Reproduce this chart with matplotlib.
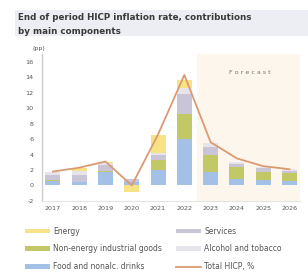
import numpy as np
import matplotlib
matplotlib.use('Agg')
import matplotlib.pyplot as plt
from matplotlib.patches import Rectangle

years = ['2017', '2018', '2019', '2020', '2021', '2022', '2023', '2024', '2025', '2026']
food = [0.6, 0.5, 1.8, 0.4, 2.0, 6.0, 1.8, 0.9, 0.7, 0.6]
neig = [0.1, 0.0, 0.1, 0.1, 1.3, 3.3, 2.2, 1.5, 1.1, 1.0]
services = [0.7, 0.9, 0.8, 0.3, 0.7, 2.5, 1.0, 0.4, 0.4, 0.3]
alcohol = [0.3, 0.5, 0.2, 0.1, 0.2, 0.8, 0.5, 0.3, 0.2, 0.2]
energy = [0.1, 0.3, 0.1, -0.9, 2.3, 1.0, 0.0, 0.0, 0.0, 0.0]
total = [1.8, 2.3, 3.1, 0.0, 6.6, 14.3, 5.6, 3.5, 2.5, 2.1]
yticks = [-2, 0, 2, 4, 6, 8, 10, 12, 14, 16]

c_food = '#a3c0e6'
c_neig = '#c2c866'
c_serv = '#c9c5d6'
c_alc = '#e8e4ec'
c_energy = '#f7e386'
c_line = '#da9a72'

fig = plt.figure(figsize=(3.08, 2.73), dpi=100)
fig.patches.append(Rectangle((0.05, 0.868), 0.95, 0.095, transform=fig.transFigure,
                             facecolor='#eceef3', edgecolor='none', zorder=0))
fig.text(0.058, 0.937, 'End of period HICP inflation rate, contributions',
         fontsize=6.3, fontweight='bold', color='#3a3a3a', va='center')
fig.text(0.058, 0.886, 'by main components',
         fontsize=6.3, fontweight='bold', color='#3a3a3a', va='center')

ax = fig.add_axes([0.136, 0.264, 0.838, 0.538])
x = np.arange(len(years))
w = 0.57

ax.axvspan(5.5, 9.5, color='#fcf6ec', zorder=0, lw=0)
ax.text(7.5, 14.6, 'F o r e c a s t', fontsize=4.6, color='#777777', ha='center', va='center')

pos = np.zeros(len(years))
neg = np.zeros(len(years))
for vals, col, lab in [(food, c_food, 'Food and nonalc. drinks'),
                       (neig, c_neig, 'Non-energy industrial goods'),
                       (services, c_serv, 'Services'),
                       (alcohol, c_alc, 'Alcohol and tobacco'),
                       (energy, c_energy, 'Energy')]:
    v = np.array(vals)
    base = np.where(v >= 0, pos, neg)
    ax.bar(x, v, w, bottom=base, color=col, label=lab, zorder=2, lw=0)
    pos = pos + np.where(v >= 0, v, 0)
    neg = neg + np.where(v < 0, v, 0)

ax.plot(x, total, color=c_line, lw=1.3, zorder=3, label='Total HICP, %')

ax.set_xlim(-0.42, 9.4)
ax.set_ylim(-2, 17)
ax.set_yticks(yticks)
ax.set_yticklabels([str(t) for t in yticks])
ax.set_xticks(x)
ax.set_xticklabels(years)
ax.tick_params(axis='both', labelsize=4.6, colors='#555555', length=0, pad=4)
ax.tick_params(axis='y', pad=6)
for s in ['top', 'right']:
    ax.spines[s].set_visible(False)
ax.spines['left'].set_color('#cccccc')
ax.spines['bottom'].set_color('#e4e4e4')
ax.spines['left'].set_linewidth(1.0)
fig.text(0.105, 0.823, '(pp)', fontsize=4.5, color='#555555', va='center')

h, l = ax.get_legend_handles_labels()
lab_map = dict(zip(l, h))
col1 = ['Energy', 'Non-energy industrial goods', 'Food and nonalc. drinks']
col2 = ['Services', 'Alcohol and tobacco', 'Total HICP, %']
leg_kw = dict(loc='upper left', frameon=False, fontsize=5.5, handlelength=3.3,
              handleheight=0.55, handletextpad=0.4, labelspacing=1.15,
              labelcolor='#555555', borderaxespad=0, borderpad=0)
fig.legend([lab_map[o] for o in col1], col1, bbox_to_anchor=(0.081, 0.17), **leg_kw)
fig.legend([lab_map[o] for o in col2], col2, bbox_to_anchor=(0.571, 0.17), **leg_kw)

fig.savefig('out.png', dpi=100)
